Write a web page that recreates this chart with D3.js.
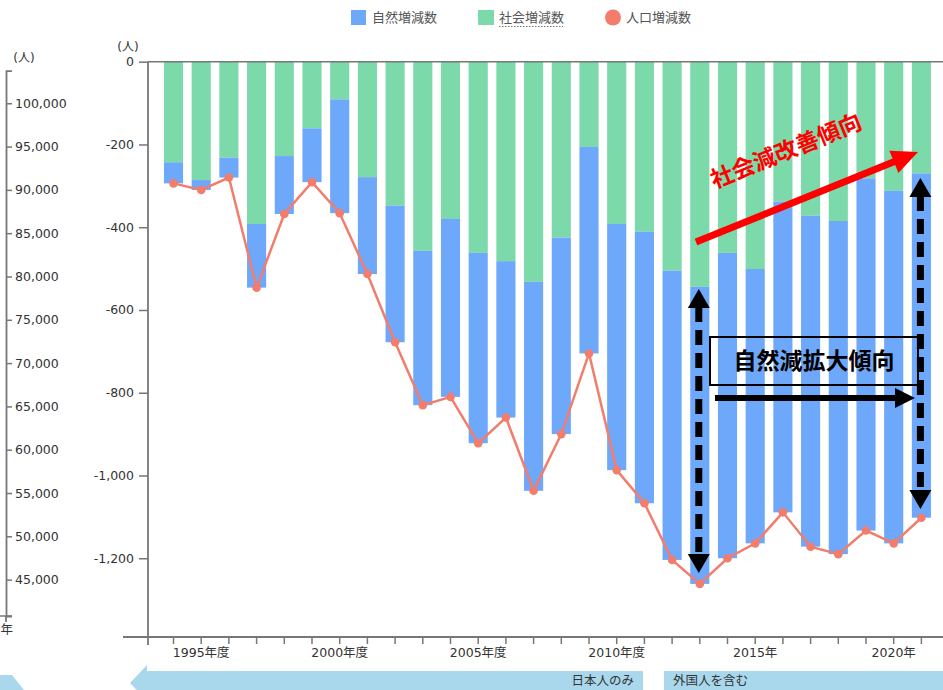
<!DOCTYPE html>
<html>
<head>
<meta charset="utf-8">
<script src="https://cdn.jsdelivr.net/npm/d3@7"></script>
<style>
body { margin:0; background:#fff; }
svg text { font-family: "DejaVu Sans", "Noto Sans CJK JP", sans-serif; }
</style>
</head>
<body>
<div id="chart"></div>
<script>
// 年度
var years = [1994,1995,1996,1997,1998,1999,2000,2001,2002,2003,2004,2005,2006,2007,
	2008,2009,2010,2011,2012,2013,2014,2015,2016,2017,2018,2019,2020,2021];
// 自然増減数
var natural = [-51,-24,-48,-154,-140,-130,-275,-234,-330,-373,-430,-460,-378,-505,
	-475,-499,-595,-656,-699,-718,-738,-663,-751,-800,-805,-851,-852,-832];
// 社会増減数
var social = [-243,-286,-232,-392,-228,-161,-91,-279,-348,-457,-380,-462,-482,-532,
	-425,-206,-392,-411,-505,-544,-462,-501,-338,-372,-385,-282,-312,-270];
// 人口増減数
var total = [-294,-310,-280,-546,-368,-291,-366,-513,-678,-830,-810,-922,-860,-1037,
	-900,-705,-987,-1067,-1204,-1262,-1200,-1164,-1089,-1172,-1190,-1133,-1164,-1102];

var yTicks = [0,-200,-400,-600,-800,-1000,-1200];
var leftTicks = [100000,95000,90000,85000,80000,75000,70000,65000,60000,55000,50000,45000];
var xLabels = {1995:"1995年度",2000:"2000年度",2005:"2005年度",2010:"2010年度",2015:"2015年",2020:"2020年"};
var legendItems = ["自然増減数","社会増減数","人口増減数"];

var blue = "#6ea8fa", green = "#7bd9aa", red = "#f27d6d", axisCol = "#777", txtCol = "#333";

var svg = d3.select("#chart").append("svg")
	.attr("width", 943)
	.attr("height", 690);

var rows = years.map(function(d, i){ return {year:d, social:social[i], natural:natural[i], total:total[i]}; });

var x = d3.scaleBand().domain(years).range([159.65, 935.25]).paddingInner(0.31).paddingOuter(0.155);
var y = d3.scaleLinear().domain([-1391, 0]).range([637.3, 61.7]);
var yL = d3.scaleLinear().domain([40800, 103760]).range([616, 70.7]);

var fmt = d3.formatLocale({decimal:".", thousands:",", grouping:[3], currency:["",""], minus:"-"}).format(",");

// bars (stacked)
var stack = d3.stack().keys(["social","natural"]).offset(d3.stackOffsetDiverging);
var layers = stack(rows);
var colors = {social:green, natural:blue};

svg.append("g").selectAll("g").data(layers)
	.enter().append("g")
	.attr("fill", function(d){ return colors[d.key]; })
	.selectAll("rect").data(function(d){ return d; })
	.enter().append("rect")
	.attr("x", function(d){ return x(d.data.year); })
	.attr("width", x.bandwidth())
	.attr("y", function(d){ return y(d[1]); })
	.attr("height", function(d){ return y(d[0]) - y(d[1]); });

// zero line
svg.append("line")
	.attr("x1", 148).attr("x2", 943)
	.attr("y1", y(0)).attr("y2", y(0))
	.attr("stroke", axisCol).attr("stroke-width", 1.5);

// y axis
var yAxis = svg.append("g")
	.attr("transform", "translate(148,0)")
	.call(d3.axisLeft(y).tickValues(yTicks).tickSize(9).tickPadding(5).tickFormat(fmt));
yAxis.select(".domain").remove();
yAxis.selectAll("line").attr("stroke", axisCol).attr("stroke-width", 1.5);
yAxis.selectAll("text").attr("fill", txtCol).style("font-size", "12.5px");
svg.append("line").attr("x1", 148).attr("x2", 148).attr("y1", y(0)).attr("y2", 645)
	.attr("stroke", axisCol).attr("stroke-width", 1.8);

// x axis
var xAxis = svg.append("g")
	.attr("transform", "translate(0,637)")
	.call(d3.axisBottom(x).tickSize(7).tickPadding(4).tickFormat(function(d){ return xLabels[d] || ""; }));
xAxis.select(".domain").remove();
xAxis.selectAll("line").attr("stroke", axisCol).attr("stroke-width", 1.5);
xAxis.selectAll("text").attr("fill", txtCol).style("font-size", "12.5px");
svg.append("line").attr("x1", 123).attr("x2", 943).attr("y1", 637).attr("y2", 637)
	.attr("stroke", axisCol).attr("stroke-width", 1.8);

// unit labels
svg.append("text").attr("x", 128).attr("y", 51).attr("text-anchor", "middle")
	.attr("fill", txtCol).style("font-size", "12px").text("(人)");
svg.append("text").attr("x", 24).attr("y", 62).attr("text-anchor", "middle")
	.attr("fill", txtCol).style("font-size", "12px").text("(人)");

// left (cut off) axis
var lAxis = svg.append("g")
	.attr("transform", "translate(6,0)")
	.call(d3.axisRight(yL).tickValues(leftTicks).tickSize(6).tickSizeOuter(6).tickPadding(3).tickFormat(fmt));
lAxis.select(".domain").attr("stroke", axisCol).attr("stroke-width", 1.8);
lAxis.selectAll("line").attr("stroke", axisCol).attr("stroke-width", 1.5);
lAxis.selectAll("text").attr("fill", txtCol).style("font-size", "12.5px");
svg.append("line").attr("x1", 0).attr("x2", 12).attr("y1", 616).attr("y2", 616)
	.attr("stroke", axisCol).attr("stroke-width", 1.5);
svg.append("line").attr("x1", 6).attr("x2", 6).attr("y1", 616).attr("y2", 622)
	.attr("stroke", axisCol).attr("stroke-width", 1.8);
svg.append("text").attr("x", 13).attr("y", 634).attr("text-anchor", "end")
	.attr("fill", txtCol).style("font-size", "12.5px").text("年");

// population line + dots
var line = d3.line()
	.x(function(d){ return x(d.year) + x.bandwidth()/2; })
	.y(function(d){ return y(d.total); });
svg.append("path").datum(rows)
	.attr("d", line)
	.attr("fill", "none")
	.attr("stroke", red)
	.attr("stroke-width", 2.5);
svg.selectAll("circle.dot").data(rows)
	.enter().append("circle")
	.attr("class", "dot")
	.attr("cx", function(d){ return x(d.year) + x.bandwidth()/2; })
	.attr("cy", function(d){ return y(d.total); })
	.attr("r", 4.3)
	.attr("fill", red);

// legend
var lg = svg.append("g").attr("class", "legend");
var lgX = [351, 478, 605];
lg.append("rect").attr("x", lgX[0]).attr("y", 10).attr("width", 15).attr("height", 15).attr("fill", blue);
lg.append("rect").attr("x", lgX[1]).attr("y", 10).attr("width", 16).attr("height", 15).attr("fill", green);
lg.append("circle").attr("cx", lgX[2] + 8).attr("cy", 17.5).attr("r", 8).attr("fill", red);
lg.selectAll("text").data(legendItems)
	.enter().append("text")
	.attr("x", function(d, i){ return lgX[i] + 21; })
	.attr("y", 22)
	.attr("fill", "#555")
	.style("font-size", "13px")
	.text(function(d){ return d; });
lg.append("line").attr("x1", lgX[1] + 21).attr("x2", lgX[1] + 85).attr("y1", 26.5).attr("y2", 26.5)
	.attr("stroke", "#777").attr("stroke-width", 1.2).attr("stroke-dasharray", "1.5,1.5");

// bottom bands
var band = "#a9d7ec";
svg.append("path").attr("d", "M130,683 L147,665 L147,671 L643,671 L643,690 L147,690 L147,701 Z").attr("fill", band);
svg.append("rect").attr("x", 664).attr("y", 671).attr("width", 279).attr("height", 19).attr("fill", band);
svg.append("path").attr("d", "M0,675 L12,675 L24,690 L0,690 Z").attr("fill", band);
svg.append("text").attr("x", 634).attr("y", 685).attr("text-anchor", "end")
	.attr("fill", txtCol).style("font-size", "12.5px").text("日本人のみ");
svg.append("text").attr("x", 673).attr("y", 685)
	.attr("fill", txtCol).style("font-size", "12.5px").text("外国人を含む");

// annotations
function head(tx, ty, ang, len, hw){
	var c = Math.cos(ang), s = Math.sin(ang);
	var bx = tx - len*c, by = ty - len*s;
	return "M" + tx + "," + ty +
		"L" + (bx - hw*s) + "," + (by + hw*c) +
		"L" + (bx + hw*s) + "," + (by - hw*c) + "Z";
}
var ann = svg.append("g").attr("class", "ann");

// 社会減改善傾向
var ax1 = 696, ay1 = 242, ax2 = 918, ay2 = 152;
var ang = Math.atan2(ay2 - ay1, ax2 - ax1);
ann.append("line")
	.attr("x1", ax1).attr("y1", ay1)
	.attr("x2", ax2 - 20*Math.cos(ang)).attr("y2", ay2 - 20*Math.sin(ang))
	.attr("stroke", "#ff0000").attr("stroke-width", 7);
ann.append("path").attr("d", head(ax2, ay2, ang, 26, 12)).attr("fill", "#ff0000");
ann.append("text")
	.attr("transform", "translate(786,151) rotate(" + (ang*180/Math.PI) + ")")
	.attr("text-anchor", "middle")
	.attr("dy", "0.35em")
	.attr("fill", "#ff0000")
	.style("font-family", "'Noto Sans CJK JP', sans-serif")
	.style("font-weight", "bold")
	.style("font-size", "23px")
	.text("社会減改善傾向");

// 自然減拡大傾向
ann.append("rect").attr("x", 710).attr("y", 337).attr("width", 208).attr("height", 48)
	.attr("fill", "none").attr("stroke", "#000").attr("stroke-width", 2);
ann.append("text").attr("x", 814).attr("y", 361).attr("dy", "0.35em")
	.attr("text-anchor", "middle")
	.attr("fill", "#000")
	.style("font-family", "'Noto Sans CJK JP', sans-serif")
	.style("font-weight", "bold")
	.style("font-size", "23px")
	.text("自然減拡大傾向");
ann.append("line").attr("x1", 715).attr("x2", 898).attr("y1", 398).attr("y2", 398)
	.attr("stroke", "#000").attr("stroke-width", 6);
ann.append("path").attr("d", head(915, 398, 0, 20, 10)).attr("fill", "#000");

// dashed double arrows
var vArrows = [{yr:2013, top:289, bot:573}, {yr:2021, top:178, bot:509}];
vArrows.forEach(function(a){
	var cx = x(a.yr) + x.bandwidth()/2 - 1;
	ann.append("line").attr("x1", cx).attr("x2", cx).attr("y1", a.top + 18).attr("y2", a.bot - 18)
		.attr("stroke", "#000").attr("stroke-width", 7).attr("stroke-dasharray", "15,8");
	ann.append("path").attr("d", head(cx, a.top, -Math.PI/2, 19, 11)).attr("fill", "#000");
	ann.append("path").attr("d", head(cx, a.bot, Math.PI/2, 19, 11)).attr("fill", "#000");
});
</script>
</body>
</html>
